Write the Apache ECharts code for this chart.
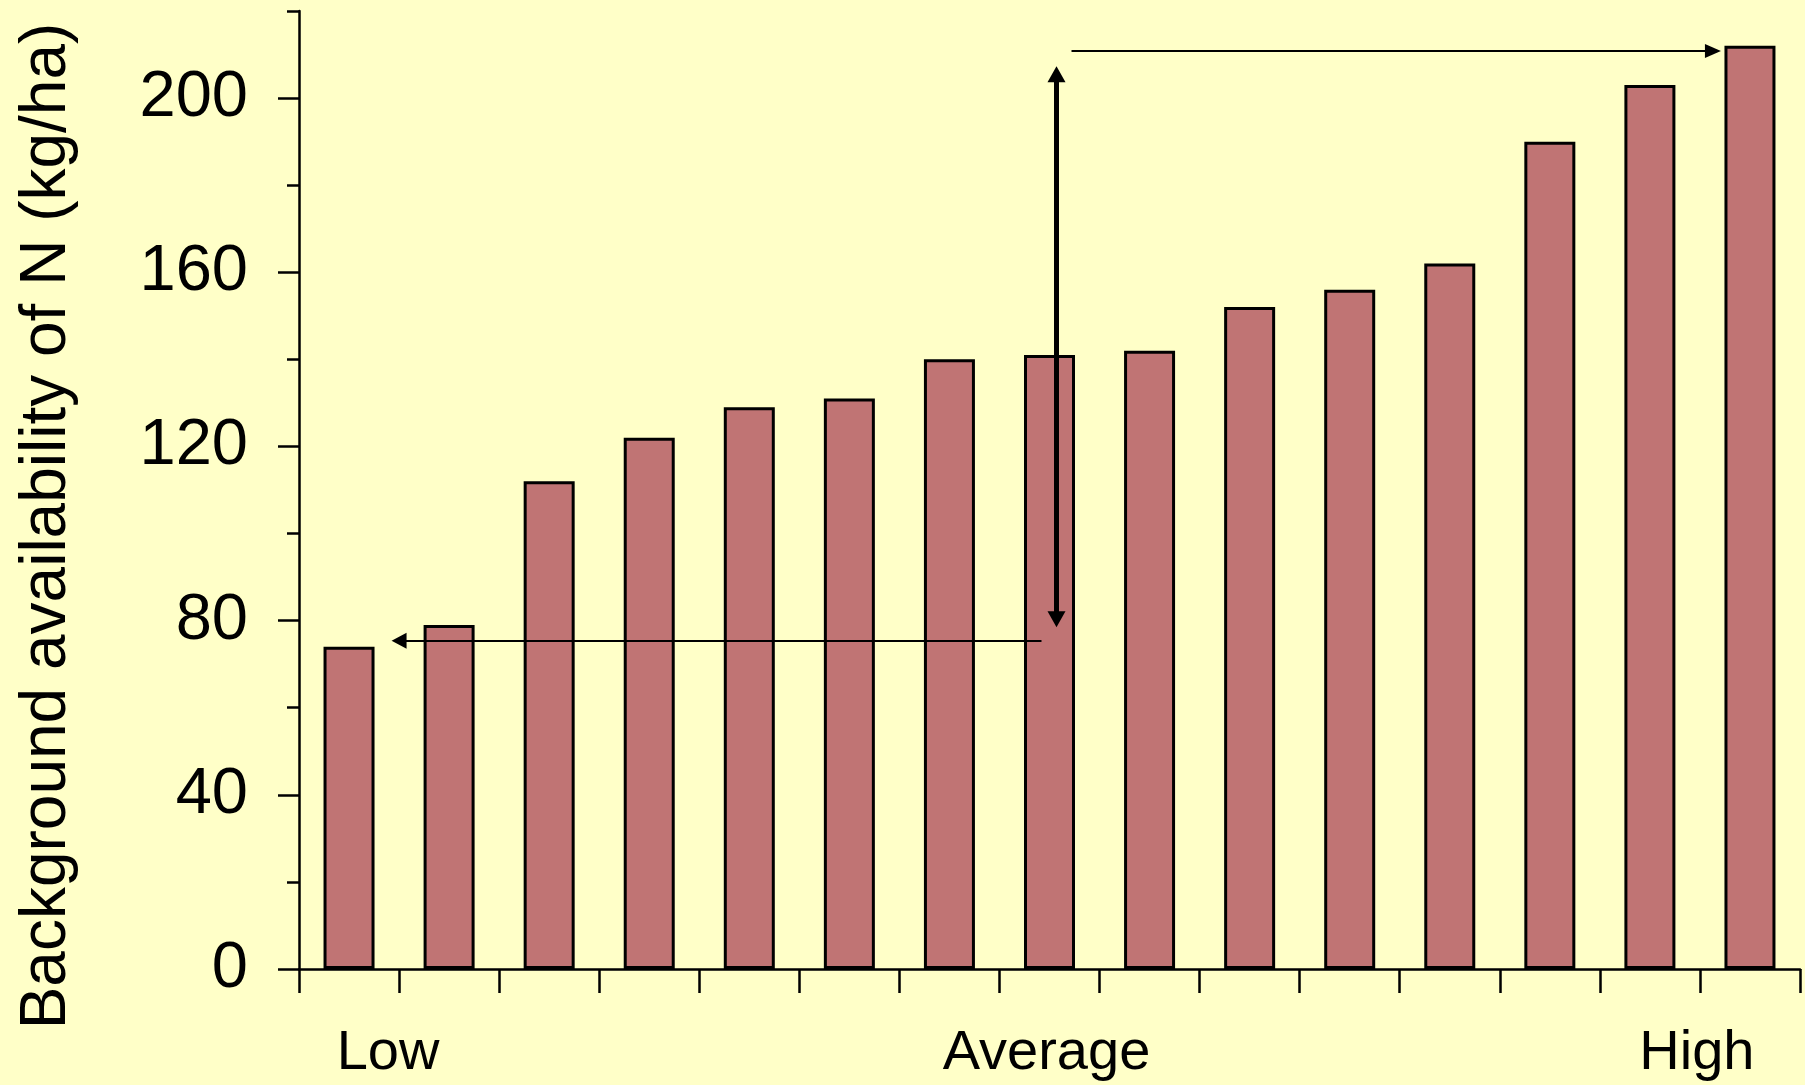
<!DOCTYPE html>
<html>
<head>
<meta charset="utf-8">
<script src="https://cdn.jsdelivr.net/npm/echarts@6/dist/echarts.min.js"></script>
<style>
html,body{margin:0;padding:0;background:#ffffc8;}
#chart{width:1805px;height:1085px;}
</style>
</head>
<body>
<div id="chart"></div>
<script>
// ---- data ----
const categories = ['1','2','3','4','5','6','7','8','9','10','11','12','13','14','15'];
const values = [74, 79, 112, 122, 129, 131, 140, 141, 142, 152, 156, 162, 190, 203, 212];
const yMajorTicks = [0, 40, 80, 120, 160, 200];
const yMax = 220;
const xLabelNames = ['Low', 'Average', 'High'];
const xLabelPositions = [0.39, 6.97, 13.47];
const yTitle = 'Background availability of N (kg/ha)';
// annotation arrows: [x (category index), y (kg/ha)]
const arrowTopFrom = [7.22, 210.8];
const arrowTopTo = [13.63, 210.8];
const arrowVertTop = [7.07, 205.5];
const arrowVertBottom = [7.07, 80.3];
const arrowLeftFrom = [6.92, 75.4];
const arrowLeftTo = [0.5, 75.4];

const FONT = "'Liberation Sans', Arial, sans-serif";
const chart = echarts.init(document.getElementById('chart'), null, {renderer: 'canvas'});

const option = {
  backgroundColor: '#ffffc8',
  animation: false,
  grid: {left: 299, right: 5, top: 11, bottom: 116, containLabel: false},
  xAxis: [
    {
      type: 'category', data: categories, boundaryGap: true,
      axisLine: {show: true, onZero: false, lineStyle: {color: '#000', width: 2.5}},
      axisTick: {show: true, length: 24, lineStyle: {color: '#000', width: 2.5}},
      axisLabel: {show: false},
      splitLine: {show: false}
    },
    {
      type: 'value', min: -0.5, max: 14.5, position: 'bottom',
      axisLine: {show: false, onZero: false}, axisTick: {show: false}, splitLine: {show: false},
      axisLabel: {
        show: true, customValues: xLabelPositions, margin: 57,
        fontFamily: FONT, fontSize: 56, color: '#000',
        formatter: function (v) {
          let best = 0;
          for (let i = 0; i < xLabelPositions.length; i++) {
            if (Math.abs(xLabelPositions[i] - v) < Math.abs(xLabelPositions[best] - v)) best = i;
          }
          return xLabelNames[best];
        }
      }
    }
  ],
  yAxis: [
    {
      type: 'value', min: 0, max: yMax, interval: 20,
      name: yTitle, nameLocation: 'middle', nameGap: 220, nameRotate: 90,
      nameTextStyle: {fontFamily: FONT, fontSize: 64, color: '#000', padding: [0, 72, 0, 0]},
      axisLine: {show: true, onZero: false, lineStyle: {color: '#000', width: 2.5}},
      axisTick: {show: true, length: 12, lineStyle: {color: '#000', width: 2.5}},
      axisLabel: {
        margin: 51, fontFamily: FONT, fontSize: 65, color: '#000',
        formatter: function (v) { return yMajorTicks.indexOf(v) >= 0 ? String(v) : ''; }
      },
      splitLine: {show: false}
    },
    {
      type: 'value', min: 0, max: yMax, interval: 20, position: 'left',
      axisLine: {show: false, onZero: false},
      axisTick: {show: true, length: 21, customValues: yMajorTicks, lineStyle: {color: '#000', width: 2.5}},
      axisLabel: {show: false},
      splitLine: {show: false}
    }
  ],
  series: [
    {
      type: 'bar', data: values, xAxisIndex: 0, yAxisIndex: 0,
      barWidth: 51,
      itemStyle: {color: '#c07474', borderColor: '#000', borderWidth: 3}
    },
    {
      type: 'line', data: [], xAxisIndex: 1, yAxisIndex: 0, silent: true,
      markLine: {
        silent: true, animation: false,
        label: {show: false},
        emphasis: {disabled: true},
        data: [
          [{coord: arrowTopFrom, symbol: 'none'}, {coord: arrowTopTo, symbol: 'triangle', symbolSize: [14, 16]}],
          [{coord: arrowLeftFrom, symbol: 'none'}, {coord: arrowLeftTo, symbol: 'triangle', symbolSize: [16, 15]}]
        ],
        lineStyle: {color: '#000', width: 2, type: 'solid'},
        itemStyle: {color: '#000'}
      }
    },
    {
      type: 'line', data: [], xAxisIndex: 1, yAxisIndex: 0, silent: true,
      markLine: {
        silent: true, animation: false,
        label: {show: false},
        emphasis: {disabled: true},
        symbol: ['triangle', 'triangle'], symbolSize: [18, 16],
        data: [
          [{coord: arrowVertTop}, {coord: arrowVertBottom}]
        ],
        lineStyle: {color: '#000', width: 5, type: 'solid'},
        itemStyle: {color: '#000'}
      }
    }
  ]
};
chart.setOption(option);
</script>
</body>
</html>
